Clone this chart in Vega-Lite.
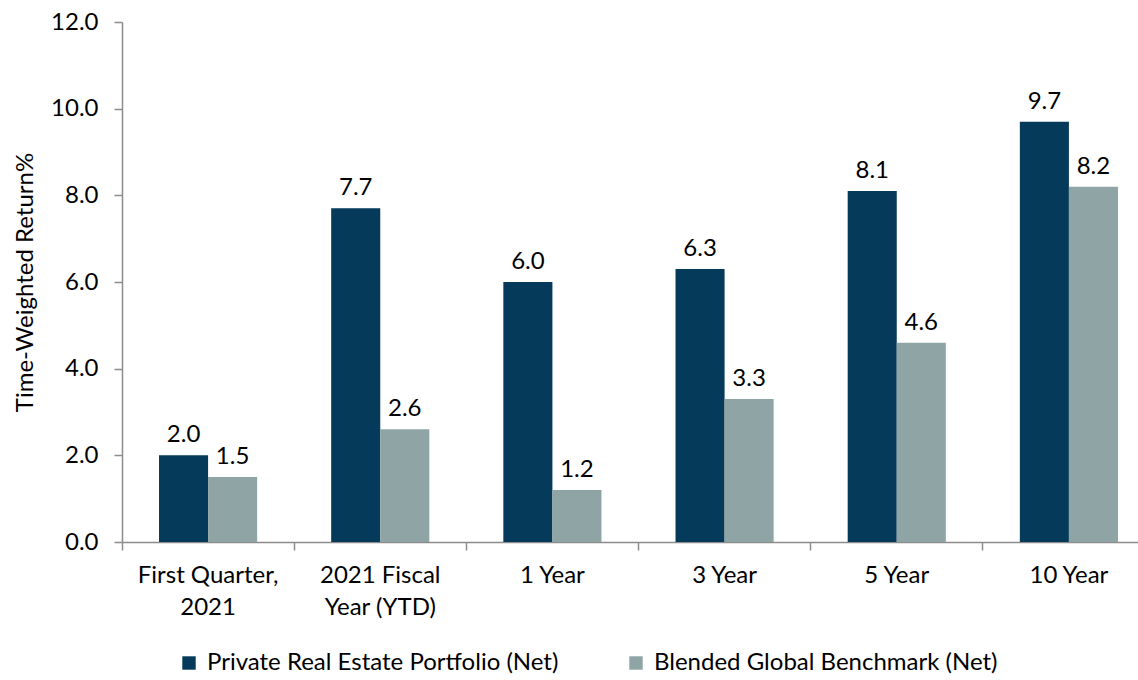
{
  "$schema": "https://vega.github.io/schema/vega-lite/v6.json",
  "width": 1033,
  "height": 520,
  "autosize": "none",
  "padding": {"left": 122, "top": 22, "right": 0, "bottom": 138},
  "background": "white",
  "config": {
    "view": {"stroke": null},
    "font": "Lato",
    "axis": {"grid": false, "domainColor": "#8c8c8c", "tickColor": "#8c8c8c", "domainWidth": 1.5, "tickWidth": 1.5, "labelColor": "#000", "titleColor": "#000", "labelFont": "Lato", "titleFont": "Lato"}
  },
  "data": {
    "values": [
      {"period": "First Quarter, 2021", "series": "Private Real Estate Portfolio (Net)", "value": 2.0},
      {"period": "First Quarter, 2021", "series": "Blended Global Benchmark (Net)", "value": 1.5},
      {"period": "2021 Fiscal Year (YTD)", "series": "Private Real Estate Portfolio (Net)", "value": 7.7},
      {"period": "2021 Fiscal Year (YTD)", "series": "Blended Global Benchmark (Net)", "value": 2.6},
      {"period": "1 Year", "series": "Private Real Estate Portfolio (Net)", "value": 6.0},
      {"period": "1 Year", "series": "Blended Global Benchmark (Net)", "value": 1.2},
      {"period": "3 Year", "series": "Private Real Estate Portfolio (Net)", "value": 6.3},
      {"period": "3 Year", "series": "Blended Global Benchmark (Net)", "value": 3.3},
      {"period": "5 Year", "series": "Private Real Estate Portfolio (Net)", "value": 8.1},
      {"period": "5 Year", "series": "Blended Global Benchmark (Net)", "value": 4.6},
      {"period": "10 Year", "series": "Private Real Estate Portfolio (Net)", "value": 9.7},
      {"period": "10 Year", "series": "Blended Global Benchmark (Net)", "value": 8.2}
    ]
  },
  "encoding": {
    "x": {
      "field": "period",
      "type": "nominal",
      "sort": null,
      "scale": {"paddingInner": 0.43, "paddingOuter": 0.215},
      "axis": {
        "title": null,
        "labelAngle": 0,
        "labelFontSize": 24,
        "labelLineHeight": 32,
        "labelPadding": 13,
        "tickSize": 8,
        "bandPosition": -0.377,
        "labelDx": 37,
        "labelExpr": "datum.value == 'First Quarter, 2021' ? ['First Quarter,', '2021'] : datum.value == '2021 Fiscal Year (YTD)' ? ['2021 Fiscal', 'Year (YTD)'] : datum.value"
      }
    },
    "xOffset": {"field": "series", "type": "nominal", "sort": ["Private Real Estate Portfolio (Net)", "Blended Global Benchmark (Net)"], "scale": {"paddingInner": 0}},
    "y": {
      "field": "value",
      "type": "quantitative",
      "scale": {"domain": [0, 12]},
      "axis": {
        "title": "Time-Weighted Return%",
        "titleFontSize": 24,
        "titleFontWeight": "normal",
        "titlePadding": 13,
        "labelFontSize": 24,
        "labelPadding": 16,
        "tickSize": 8,
        "values": [0, 2, 4, 6, 8, 10, 12],
        "format": ".1f"
      }
    }
  },
  "layer": [
    {
      "mark": {"type": "bar"},
      "encoding": {
        "color": {
          "field": "series",
          "type": "nominal",
          "scale": {"domain": ["Private Real Estate Portfolio (Net)", "Blended Global Benchmark (Net)"], "range": ["#053A5B", "#8EA4A5"]},
          "legend": {
            "title": null,
            "orient": "none",
            "direction": "horizontal",
            "legendX": 55,
            "legendY": 629,
            "symbolType": "square",
            "symbolSize": 180,
            "symbolStrokeWidth": 0,
            "labelFontSize": 24,
            "labelOffset": 6,
            "columnPadding": 65,
            "labelLimit": 500
          }
        }
      }
    },
    {
      "mark": {"type": "text", "baseline": "bottom", "dy": -8, "fontSize": 24, "color": "#000"},
      "encoding": {
        "text": {"field": "value", "type": "quantitative", "format": ".1f"}
      }
    }
  ]
}
